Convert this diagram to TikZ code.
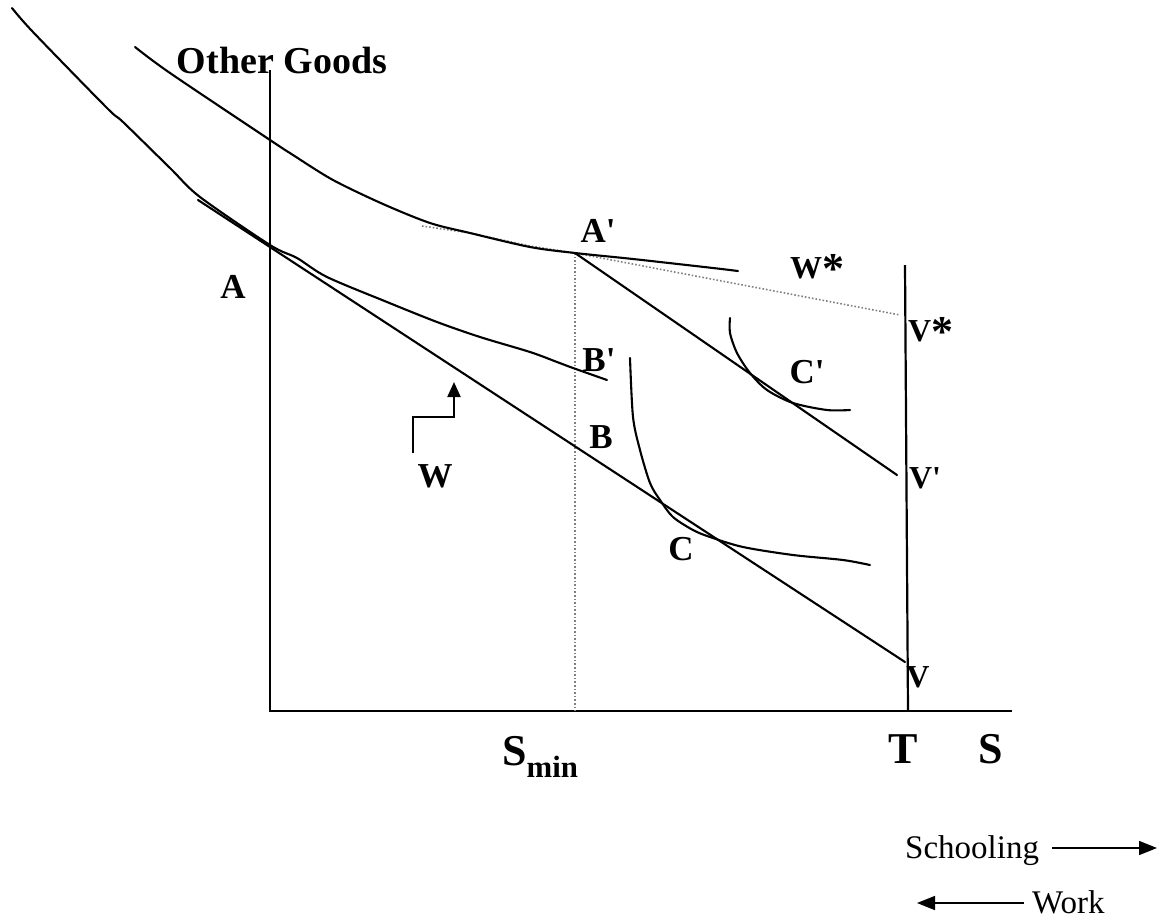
\documentclass[tikz,border=0pt]{standalone}
\usepackage{fontspec}
\setmainfont{Liberation Serif}
\usetikzlibrary{arrows.meta}
\newcommand{\pr}{\textquotesingle}
\newcommand{\bigast}{\raisebox{-5pt}{\fontsize{44}{44}\selectfont *}}
\begin{document}
\begin{tikzpicture}[x=1pt,y=-1pt,
  curve/.style={line width=2.1pt,line join=round,line cap=round},
  axisline/.style={line width=2.2pt},
  guide/.style={line width=1.6pt,gray,dotted},
  lbl/.style={font=\bfseries\fontsize{35}{37}\selectfont,inner sep=0pt},
  smlbl/.style={font=\bfseries\fontsize{32}{34}\selectfont,inner sep=0pt},
  axlbl/.style={font=\bfseries\fontsize{44}{46}\selectfont,inner sep=0pt},
  note/.style={font=\fontsize{33}{35}\selectfont,inner sep=0pt}]
\useasboundingbox (0,0) rectangle (1163,922);
% axes
\coordinate (O) at (270,711);
\coordinate (ytop) at (270,70);
\coordinate (xend) at (1012,711);
\draw[axisline] (ytop) -- (O) -- (xend);
\coordinate (Ttop) at (905,265);
\coordinate (Tbot) at (908,711);
\draw[axisline] (Ttop) -- (Tbot);
% points
\coordinate (pA) at (270,247);
\coordinate (pAp) at (575,253);
\coordinate (pB) at (575,446);
\coordinate (pV) at (905,662);
\coordinate (pVp) at (897,475);
\coordinate (pVs) at (900,315);
\coordinate (pSmin) at (575,711);
\coordinate (budStart) at (198,200);
% dotted guides
\draw[guide] (pAp) -- (pSmin);
\draw[guide] (pAp) -- (pVs);
\draw[guide] (422,226) -- (470,233) -- (530,246) -- (pAp);
% budget lines
\draw[curve] (budStart) -- (pV);
\draw[curve] (pAp) -- (pVp);
% upper indifference curve
\draw[curve] plot[smooth,tension=0.5] coordinates {(135,47) (170,73) (270,140) (293,155) (333,180) (383,204) (430,223) (470,233) (530,247) (575,253) (633,259) (713,268) (738,271)};
% lower-left indifference curve
\draw[curve] plot[smooth,tension=0.5] coordinates {(12,8) (33,32) (107,108) (123,122) (170,168) (200,197) (270,245) (297,258) (327,277) (387,302) (437,322) (480,337) (530,352) (557,362) (573,368) (607,380)};
% curve C
\draw[curve] plot[smooth,tension=0.5] coordinates {(630,358) (633,417) (640,450) (650,483) (660,500) (673,517) (693,530) (710,537) (743,547) (793,555) (843,560) (870,565)};
% curve C'
\draw[curve] plot[smooth,tension=0.5] coordinates {(730,318) (730,333) (737,353) (750,373) (767,390) (793,403) (827,410) (850,410)};
% W arrow
\coordinate (w1) at (413,453);
\coordinate (w2) at (454,382);
\draw[line width=2.1pt,-{Triangle[length=15pt,width=13pt]}] (w1) -- (413,417) -- (454,417) -- (w2);
% labels
\node[font=\bfseries\fontsize{38}{40}\selectfont,inner sep=0pt] (og) at (282,60) {Other Goods};
\node[lbl] (lA) at (233,287) {A};
\node[lbl] (lAp) at (598,231) {A\pr};
\node[smlbl,anchor=base west] (lWs) at (790,278) {W\bigast};
\node[smlbl,anchor=base west] (lVs) at (908,341) {V\bigast};
\node[lbl] (lBp) at (599,360) {B\pr};
\node[lbl] (lCp) at (807,372) {C\pr};
\node[lbl] (lB) at (601,437) {B};
\node[lbl] (lW) at (435,476) {W};
\node[lbl] (lC) at (681,549) {C};
\node[smlbl] (lVp) at (925,478) {V\pr};
\node[smlbl] (lV) at (918,677) {V};
\node[axlbl,anchor=base west] (lSmin) at (502,765) {S\textsubscript{min}};
\node[axlbl,anchor=base] (lT) at (903,763) {T};
\node[axlbl,anchor=base] (lS) at (991,763) {S};
% bottom legend
\node[note,anchor=base west] (sch) at (905,858) {Schooling};
\coordinate (sa) at (1052,848);
\coordinate (sb) at (1157,848);
\draw[line width=1.6pt,-{Triangle[length=18pt,width=14pt]}] (sa) -- (sb);
\node[note,anchor=base west] (wk) at (1032,913) {Work};
\coordinate (wa) at (1024,903);
\coordinate (wb) at (917,903);
\draw[line width=1.6pt,-{Triangle[length=18pt,width=14pt]}] (wa) -- (wb);
\end{tikzpicture}
\end{document}
